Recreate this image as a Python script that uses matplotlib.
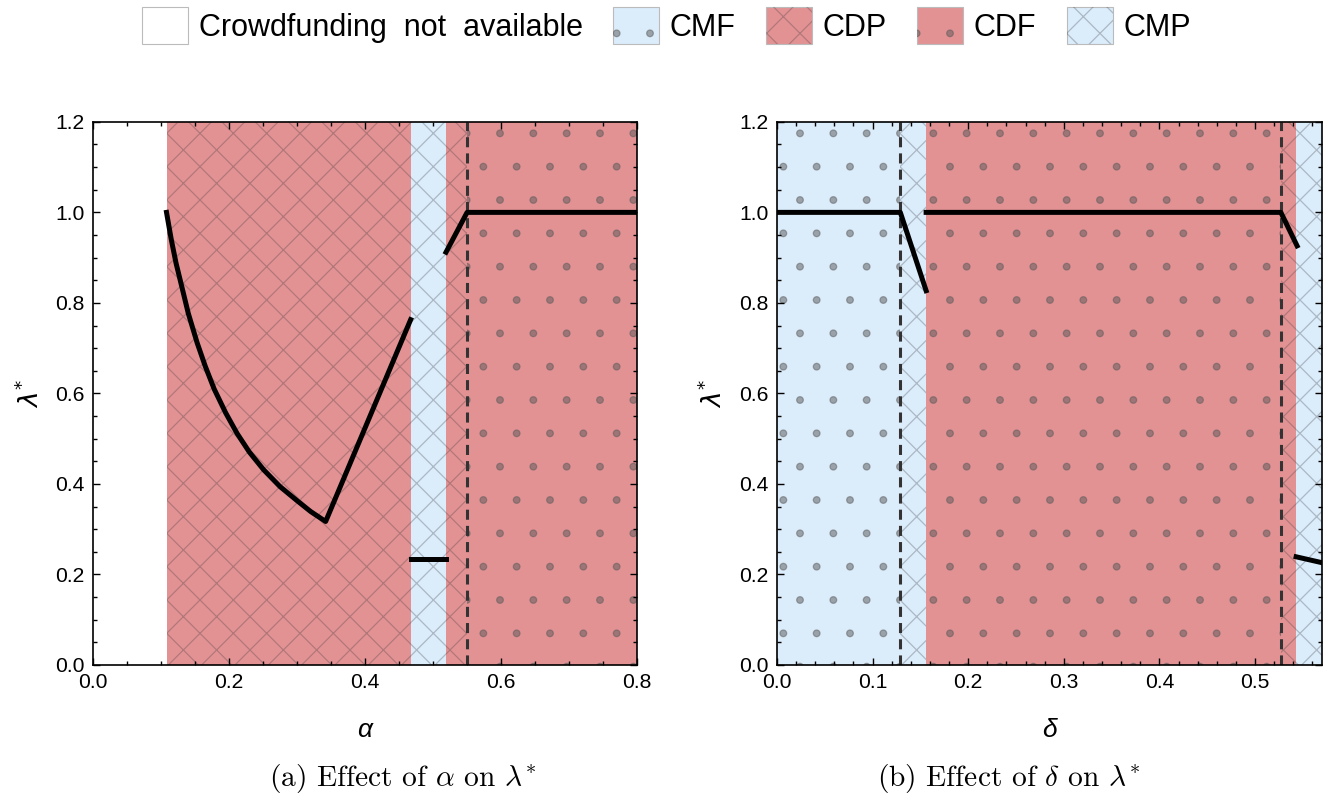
import matplotlib
matplotlib.use('Agg')
import matplotlib.pyplot as plt
from matplotlib.patches import Patch
from matplotlib.legend_handler import HandlerTuple
from matplotlib.ticker import MultipleLocator

plt.rcParams['font.family'] = ['Liberation Sans', 'DejaVu Sans']
plt.rcParams['hatch.linewidth'] = 0.45

# regime boundaries
alpha_edges = [0.0, 0.109, 0.467, 0.519, 0.55, 0.8]
alpha_regimes = ['none', 'CDP', 'CMP', 'CDP', 'CDF']
alpha_dashed = [0.55]

delta_edges = [0.0, 0.129, 0.156, 0.527, 0.543, 0.57]
delta_regimes = ['CMF', 'CMP', 'CDF', 'CDP', 'CMP']
delta_dashed = [0.129, 0.527]

# lambda* segments, panel (a)
a_seg1_x = [0.108, 0.115, 0.122, 0.129, 0.140, 0.153, 0.165, 0.178, 0.195,
            0.212, 0.230, 0.251, 0.275, 0.300, 0.320, 0.342, 0.467]
a_seg1_y = [1.000, 0.940, 0.888, 0.845, 0.777, 0.712, 0.660, 0.610, 0.557,
            0.511, 0.470, 0.431, 0.394, 0.363, 0.339, 0.317, 0.763]
a_seg2_x = [0.467, 0.519]
a_seg2_y = [0.235, 0.235]
a_seg3_x = [0.519, 0.55, 0.8]
a_seg3_y = [0.912, 1.0, 1.0]

# lambda* segments, panel (b)
d_seg1_x = [0.0, 0.129, 0.156]
d_seg1_y = [1.0, 1.0, 0.827]
d_seg2_x = [0.156, 0.527, 0.544]
d_seg2_y = [1.0, 1.0, 0.926]
d_seg3_x = [0.543, 0.57]
d_seg3_y = [0.239, 0.226]

legend_keys = ['none', 'CMF', 'CDP', 'CDF', 'CMP']
legend_labels = ['Crowdfunding  not  available', 'CMF', 'CDP', 'CDF', 'CMP']

RED = '#e39294'
BLUE = '#dbecfb'
cross_col = (0.2, 0.2, 0.2, 0.28)
dot_col = (0.35, 0.35, 0.35, 0.5)
style = {
    'none': ('white', None, None),
    'CMF': (BLUE, '.', dot_col),
    'CDP': (RED, 'xx', cross_col),
    'CDF': (RED, '.', dot_col),
    'CMP': (BLUE, 'xx', cross_col),
}


def fill_regimes(ax, edges, regimes):
    for x0, x1, r in zip(edges[:-1], edges[1:], regimes):
        fc, hatch, hc = style[r]
        ax.axvspan(x0, x1, facecolor=fc, lw=0, zorder=0)
        if hatch:
            ax.axvspan(x0, x1, facecolor='none', edgecolor=hc, hatch=hatch,
                       lw=0, zorder=0.5)


fig = plt.figure(figsize=(6.705, 4.035), dpi=200)
ax1 = fig.add_axes([0.0694, 0.176, 0.4057, 0.673])
ax2 = fig.add_axes([0.5794, 0.176, 0.4064, 0.673])

fill_regimes(ax1, alpha_edges, alpha_regimes)
fill_regimes(ax2, delta_edges, delta_regimes)

for xs, ys in [(a_seg1_x, a_seg1_y), (a_seg2_x, a_seg2_y), (a_seg3_x, a_seg3_y)]:
    ax1.plot(xs, ys, color='k', lw=1.8, zorder=3)
for xs, ys in [(d_seg1_x, d_seg1_y), (d_seg2_x, d_seg2_y), (d_seg3_x, d_seg3_y)]:
    ax2.plot(xs, ys, color='k', lw=1.8, zorder=3)

for x in alpha_dashed:
    ax1.axvline(x, color='#333333', lw=1.1, ls=(0, (3.3, 2.0)), zorder=2)
for x in delta_dashed:
    ax2.axvline(x, color='#333333', lw=1.1, ls=(0, (3.3, 2.0)), zorder=2)

ax1.set_xlim(0, 0.8)
ax2.set_xlim(0, 0.57)
ax1.xaxis.set_major_locator(MultipleLocator(0.2))
ax1.xaxis.set_minor_locator(MultipleLocator(0.05))
ax2.xaxis.set_major_locator(MultipleLocator(0.1))
ax2.xaxis.set_minor_locator(MultipleLocator(0.02))

for ax in (ax1, ax2):
    ax.set_ylim(0, 1.2)
    ax.yaxis.set_major_locator(MultipleLocator(0.2))
    ax.yaxis.set_minor_locator(MultipleLocator(0.05))
    ax.tick_params(which='both', direction='in', top=True, right=True,
                   labelsize=7.6, width=0.5, pad=3)
    ax.tick_params(which='major', length=2.4)
    ax.tick_params(which='minor', length=1.4)
    for sp in ax.spines.values():
        sp.set_linewidth(0.6)
    ax.set_ylabel(r'$\lambda^{*}$', fontsize=9.5, math_fontfamily='dejavusans')

ax1.set_xlabel('α', fontsize=9.5, style='italic')
ax2.set_xlabel('δ', fontsize=9.5, style='italic')
ax1.xaxis.set_label_coords(0.5, -0.098)
ax2.xaxis.set_label_coords(0.5, -0.098)
ax1.yaxis.set_label_coords(-0.09, 0.5)
ax2.yaxis.set_label_coords(-0.092, 0.5)

fig.text(0.300, 0.035, r'(a) Effect of $\alpha$ on $\lambda^{*}$', ha='center',
         va='center', fontsize=10.6, family='cmr10', math_fontfamily='cm')
fig.text(0.752, 0.035, r'(b) Effect of $\delta$ on $\lambda^{*}$', ha='center',
         va='center', fontsize=10.6, family='cmr10', math_fontfamily='cm')

handles = []
for r in legend_keys:
    fc, hatch, hc = style[r]
    base = Patch(facecolor=fc, edgecolor='#bbbbbb', lw=0.4)
    if hatch:
        handles.append((base, Patch(facecolor='none', edgecolor=hc, hatch=hatch, lw=0)))
    else:
        handles.append(base)

fig.legend(handles, legend_labels, loc='center', bbox_to_anchor=(0.497, 0.968),
           ncol=5, frameon=False, fontsize=11, handlelength=1.5, handleheight=1.5,
           handletextpad=0.35, columnspacing=1.0,
           handler_map={tuple: HandlerTuple(ndivide=1, pad=0)})

fig.savefig('out.png', dpi=200)
